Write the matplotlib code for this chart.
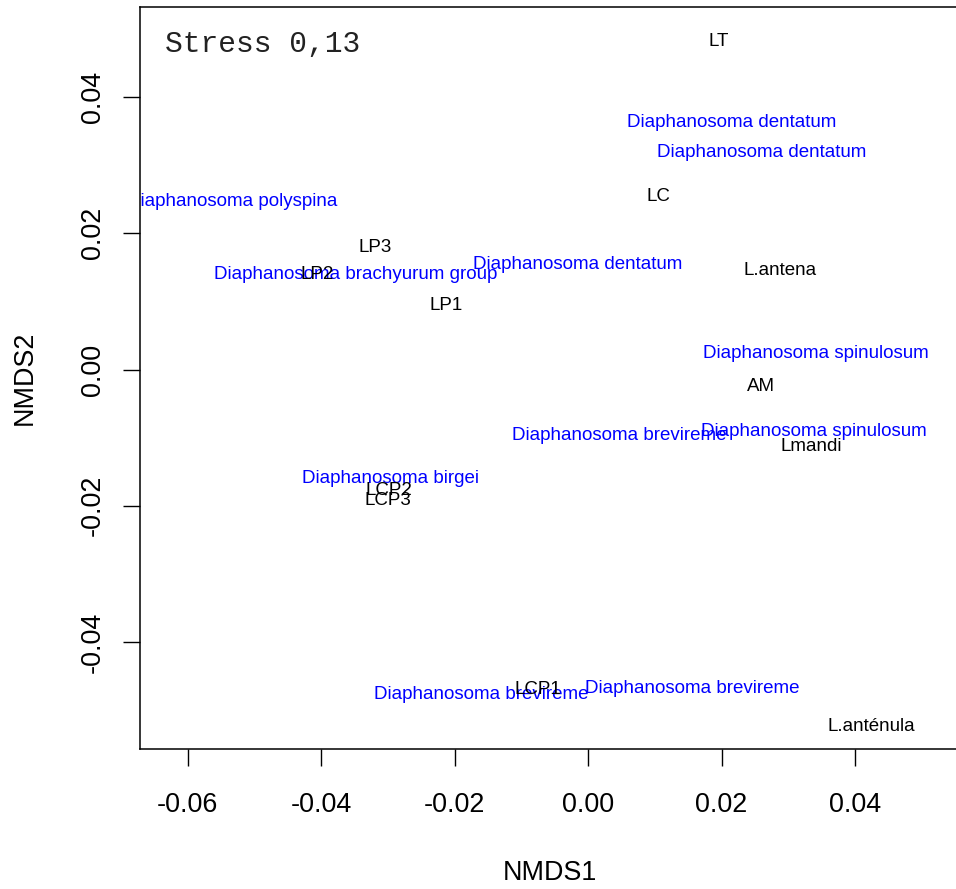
import matplotlib
matplotlib.use("Agg")
import matplotlib.pyplot as plt

# NMDS site scores (black labels)
site_names = ["LT", "LC", "LP3", "LP2", "LP1", "L.antena", "AM", "Lmandi",
              "LCP2", "LCP3", "LCP1", "L.anténula"]
site_x = [0.01952, 0.01053, -0.03196, -0.04064, -0.02130, 0.02872, 0.02596,
          0.03351, -0.02981, -0.02992, -0.00757, 0.04247]
site_y = [0.04809, 0.02544, 0.01786, 0.01400, 0.00945, 0.01459, -0.00254,
          -0.01134, -0.01770, -0.01927, -0.04694, -0.05243]

# NMDS species scores (blue labels)
species_names = ["Diaphanosoma dentatum", "Diaphanosoma dentatum",
                 "Diaphanosoma polyspina", "Diaphanosoma brachyurum group",
                 "Diaphanosoma dentatum", "Diaphanosoma spinulosum",
                 "Diaphanosoma spinulosum", "Diaphanosoma brevireme",
                 "Diaphanosoma birgei", "Diaphanosoma brevireme",
                 "Diaphanosoma brevireme"]
species_x = [0.02147, 0.02596, -0.05326, -0.03479, -0.00153, 0.03413,
             0.03389, 0.00472, -0.02959, -0.01596, 0.01558]
species_y = [0.03620, 0.03180, 0.02471, 0.01400, 0.01539, 0.00236,
             -0.00914, -0.00963, -0.01598, -0.04763, -0.04679]

x_ticks = [-0.06, -0.04, -0.02, 0.00, 0.02, 0.04]
y_ticks = [-0.04, -0.02, 0.00, 0.02, 0.04]
stress_text = "Stress 0,13"

plt.rcParams["font.family"] = ["Liberation Sans", "DejaVu Sans"]

W, H = 956, 889
fig = plt.figure(figsize=(W / 100, H / 100), dpi=100)
left, right, top, bottom = 140, 960, 7.3, 749.3
ax = fig.add_axes([left / W, 1 - bottom / H, (right - left) / W, (bottom - top) / H])

ax.set_xlim(-0.06712, 0.05573)
ax.set_ylim(-0.05573, 0.05315)

label_size = 13.5
for name, x, y in zip(species_names, species_x, species_y):
    ax.text(x, y, name, color="#0000FF", fontsize=label_size,
            ha="center", va="center", clip_on=True)
for name, x, y in zip(site_names, site_x, site_y):
    ax.text(x, y, name, color="black", fontsize=label_size,
            ha="center", va="center", clip_on=True)

ax.text(0.0299, 0.9402, stress_text, transform=ax.transAxes,
        family=["Liberation Mono", "DejaVu Sans Mono"], fontsize=21.3,
        ha="left", va="baseline", color="#222222")

for side in ["left", "bottom", "top", "right"]:
    ax.spines[side].set_linewidth(1.1)
    ax.spines[side].set_color("black")

tick_fs = 19.4
ax.set_xticks(x_ticks)
ax.set_xticklabels([f"{v:.2f}" for v in x_ticks])
ax.set_yticks(y_ticks)
ax.set_yticklabels([f"{v:.2f}" for v in y_ticks])
ax.tick_params(axis="both", direction="out", length=12, width=1.0,
               labelsize=tick_fs, colors="black")
ax.tick_params(axis="x", pad=19.0)
ax.tick_params(axis="y", pad=12.5)
for lbl in ax.get_yticklabels():
    lbl.set_rotation(90)
    lbl.set_va("center")
    lbl.set_ha("right")

ax.set_xlabel("NMDS1", fontsize=tick_fs)
ax.set_ylabel("NMDS2", fontsize=tick_fs)
ax.xaxis.label.set_va("center")
ax.xaxis.set_label_coords(0.5, (bottom - 873) / (bottom - top))
ax.yaxis.label.set_va("center")
ax.yaxis.label.set_ha("center")
ax.yaxis.set_label_coords((25 - left) / (right - left), 0.5)

fig.savefig("out.png", dpi=100)
